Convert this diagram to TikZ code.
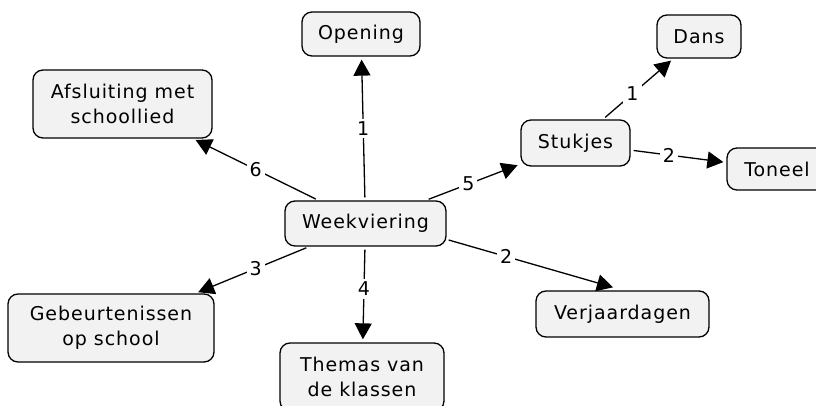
\documentclass[tikz,border=0pt]{standalone}
\usepackage{fontspec}
\setmainfont{DejaVu Sans}[LetterSpace=5]
\usetikzlibrary{arrows.meta,calc}
\tikzset{
  box/.style={draw=black, line width=1.3pt, fill=black!5, rounded corners=10pt,
    align=center, inner sep=0pt, font=\fontsize{19}{25}\selectfont},
  conn/.style={draw=black, line width=1.3pt, -{Triangle[length=16pt,width=17pt]},
    shorten <=3pt, shorten >=3pt},
  lbl/.style={fill=white, inner xsep=3pt, inner ysep=3pt, font=\fontsize{19}{20}\selectfont}
}
\begin{document}
\begin{tikzpicture}[x=1pt,y=-1pt]
\useasboundingbox (0,0) rectangle (816,406);
\clip (0,0) rectangle (816,406);
\node[box, minimum width=118pt, minimum height=44pt] (op) at (361,34) {Opening};
\node[box, minimum width=179pt, minimum height=68pt] (af) at (122.5,104) {Afsluiting met\ \\schoollied};
\node[box, minimum width=161pt, minimum height=45pt] (wk) at (365.5,223.5) {Weekviering};
\node[box, minimum width=109pt, minimum height=46pt] (st) at (575.5,143) {Stukjes};
\node[box, minimum width=84pt, minimum height=43pt] (da) at (699,36.5) {Dans};
\node[box, minimum width=100pt, minimum height=42pt] (to) at (777,169) {Toneel};
\node[box, minimum width=206pt, minimum height=68pt] (ge) at (111,328) {Gebeurtenissen\ \\op school};
\node[box, minimum width=164pt, minimum height=68pt] (th) at (362,377) {Themas van\ \\de klassen};
\node[box, minimum width=173pt, minimum height=46pt] (vj) at (622.5,314) {Verjaardagen};

\draw[conn] (wk) -- node[lbl, pos=0.5] {1} (op);
\draw[conn] (wk) -- node[lbl, pos=0.5] {6} (af);
\draw[conn] (wk) -- node[lbl, pos=0.45] {5} (st);
\draw[conn] (wk) -- node[lbl, pos=0.47] {3} (ge);
\draw[conn] (wk) -- node[lbl, pos=0.44] {4} (th);
\draw[conn, shorten <=0pt, shorten >=0pt] ($(wk.east)+(2,16.5)$) -- node[lbl, pos=0.35] {2} ($(vj.north)+(-9.5,-3)$);
\draw[conn] (st) -- node[lbl, pos=0.42] {1} (da);
\draw[conn] (st) -- node[lbl, pos=0.4] {2} (to);
\end{tikzpicture}
\end{document}
